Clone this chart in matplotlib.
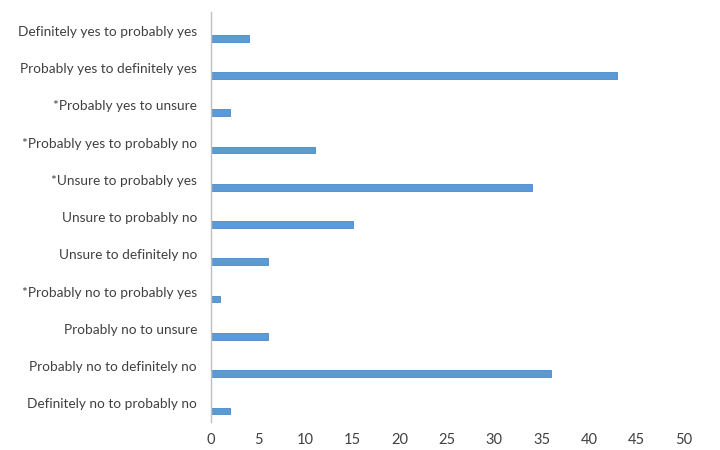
import numpy as np
import matplotlib
matplotlib.use('Agg')
import matplotlib.pyplot as plt

# categories top to bottom, as in the picture
categories = [
    "Definitely yes to probably yes",
    "Probably yes to definitely yes",
    "*Probably yes to unsure",
    "*Probably yes to probably no",
    "*Unsure to probably yes",
    "Unsure to probably no",
    "Unsure to definitely no",
    "*Probably no to probably yes",
    "Probably no to unsure",
    "Probably no to definitely no",
    "Definitely no to probably no",
]
counts = [4, 43, 2, 11, 34, 15, 6, 1, 6, 36, 2]
xticks = [0, 5, 10, 15, 20, 25, 30, 35, 40, 45, 50]

plt.rcParams['font.family'] = ['Lato', 'DejaVu Sans']

fig = plt.figure(figsize=(7.2, 4.5), dpi=100)
ax = fig.add_axes([0.293, 0.062, 0.656, 0.911])

y = np.arange(len(categories))
# bars sit a bit below each label (second, empty series in the original)
ax.barh(y + 0.2, counts, height=0.18, color="#5B9BD5", edgecolor="#4A8AC8", linewidth=0.6)

ax.set_ylim(len(categories) - 0.5, -0.5)
ax.set_xlim(0, 50)
ax.set_xticks(xticks)
ax.set_yticks(y)
ax.set_yticklabels(categories)

for s in ['top', 'right', 'bottom']:
    ax.spines[s].set_visible(False)
ax.spines['left'].set_color("#BFBFBF")
ax.spines['left'].set_linewidth(1.0)
ax.tick_params(axis='both', length=0, colors="#404040")
ax.tick_params(axis='y', pad=10, labelsize=9.8)
ax.tick_params(axis='x', pad=8, labelsize=10.5)

fig.savefig("out.png", dpi=100)
